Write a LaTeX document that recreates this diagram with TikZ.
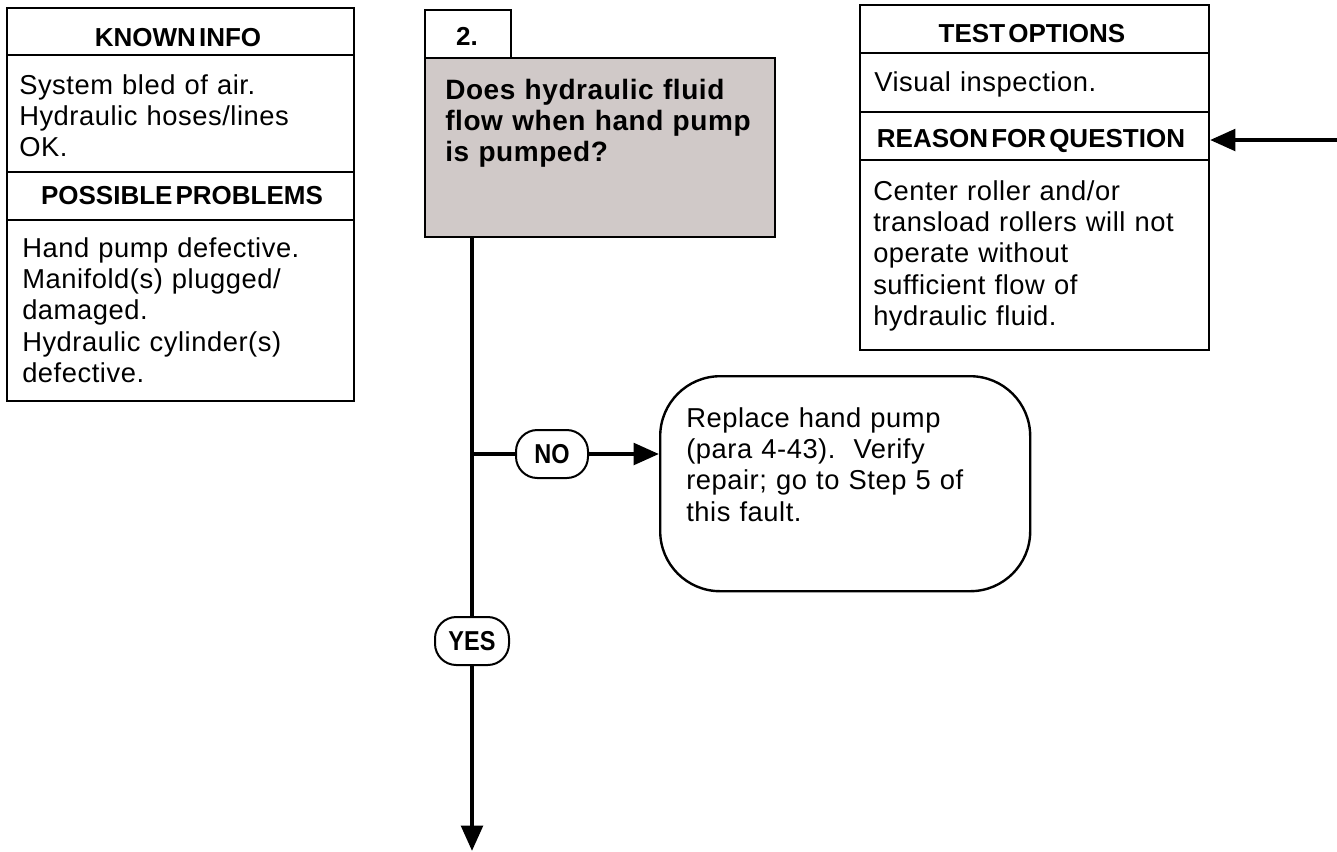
\documentclass[tikz,border=0pt]{standalone}
\usepackage{fontspec}
\setmainfont{Liberation Sans}
\newfontfamily\bodyfam[LetterSpace=2]{Liberation Sans}
\newfontfamily\pillfam[FakeStretch=0.86]{Liberation Sans}
\usetikzlibrary{arrows.meta}
\definecolor{stepgray}{RGB}{208,201,200}
\newcommand\bodyfnt{\bodyfam\fontsize{20.5}{23.6}\selectfont}
\newcommand\headfnt{\bfseries\fontsize{19.5}{22}\selectfont\spaceskip=0.12em\relax}
\newcommand\qfnt{\bodyfam\bfseries\fontsize{21}{23.6}\selectfont}
\newcommand\pillfnt{\pillfam\bfseries\fontsize{20.5}{22}\selectfont}
\begin{document}
\begin{tikzpicture}[x=0.75pt,y=-0.75pt,
  cell/.style={draw, line width=1.5pt, rectangle, inner sep=0pt, anchor=north west},
  headtxt/.style={font=\headfnt, anchor=base, inner sep=0pt},
  bodytxt/.style={font=\bodyfnt, anchor=base west, inner sep=0pt, align=left, text width=250pt},
  pill/.style={draw, line width=1.5pt, rounded corners=16pt, minimum width=54pt, minimum height=36pt, font=\pillfnt, inner sep=0pt},
  flow/.style={line width=3.2pt},
  tip/.style={-{Triangle[length=19pt,width=16pt]}}
]
\useasboundingbox (0,0) rectangle (1337,851);

% left panel
\node[cell, minimum width=260.25pt, minimum height=35.25pt] (kh) at (6,7) {};
\node[cell, minimum width=260.25pt, minimum height=87.75pt] (kb) at (6,54) {};
\node[cell, minimum width=260.25pt, minimum height=36pt] (ph) at (6,171) {};
\node[cell, minimum width=260.25pt, minimum height=135.75pt] (pb) at (6,219) {};
\node[headtxt] (kht) at (178,46) {KNOWN INFO};
\node[bodytxt] (kbt) at (19,94) {System bled of air.\\Hydraulic hoses/lines\\OK.};
\node[headtxt] (pht) at (182,204) {POSSIBLE PROBLEMS};
\node[bodytxt] (pbt) at (22,257) {Hand pump defective.\\Manifold(s) plugged/\\damaged.\\Hydraulic cylinder(s)\\defective.};

% right panel
\node[cell, minimum width=261.75pt, minimum height=36pt] (th) at (859,4) {};
\node[cell, minimum width=261.75pt, minimum height=44.25pt] (tb) at (859,52) {};
\node[cell, minimum width=261.75pt, minimum height=36pt] (rh) at (859,111) {};
\node[cell, minimum width=261.75pt, minimum height=142.5pt] (rb) at (859,159) {};
\node[headtxt] (tht) at (1032,42) {TEST OPTIONS};
\node[bodytxt] (tbt) at (874,91) {Visual inspection.};
\node[headtxt] (rht) at (1031,147) {REASON FOR QUESTION};
\node[bodytxt] (rbt) at (873,200) {Center roller and/or\\transload rollers will not\\operate without\\sufficient flow of\\hydraulic fluid.};

% step
\node[cell, minimum width=64.5pt, minimum height=36pt] (num) at (424,9) {};
\node[headtxt] (numt) at (467,45) {2.};
\node[cell, fill=stepgray, minimum width=262.5pt, minimum height=134.25pt] (step) at (424,57) {};
\node[font=\qfnt, anchor=base west, inner sep=0pt, align=left, text width=250pt] (stept) at (445,99) {Does hydraulic fluid\\flow when hand pump\\is pumped?};

% branches
\node[pill] (no) at (552,454) {NO};
\node[pill, minimum width=55.5pt] (yes) at (472,641) {YES};
\node[draw, line width=1.8pt, rounded corners=45pt, anchor=north west, minimum width=277.5pt, minimum height=161.25pt, inner sep=0pt] (fix) at (659,375) {};
\node[bodytxt] (fixt) at (686,427) {Replace hand pump\\(para 4-43).\ \ Verify\\repair; go to Step 5 of\\this fault.};

\coordinate (br) at (472,454);
\coordinate (bottom) at (472,851);
\coordinate (rin) at (1337,140);

\draw[flow] (yes |- step.south) -- (yes.north);
\draw[flow] (br) -- (no.west);
\draw[flow,tip] (no.east) -- (no.east -| fix.west);
\draw[flow,tip] (yes.south) -- (bottom);
\draw[flow,tip] (rin) -- (rin -| rh.east);
\end{tikzpicture}
\end{document}
